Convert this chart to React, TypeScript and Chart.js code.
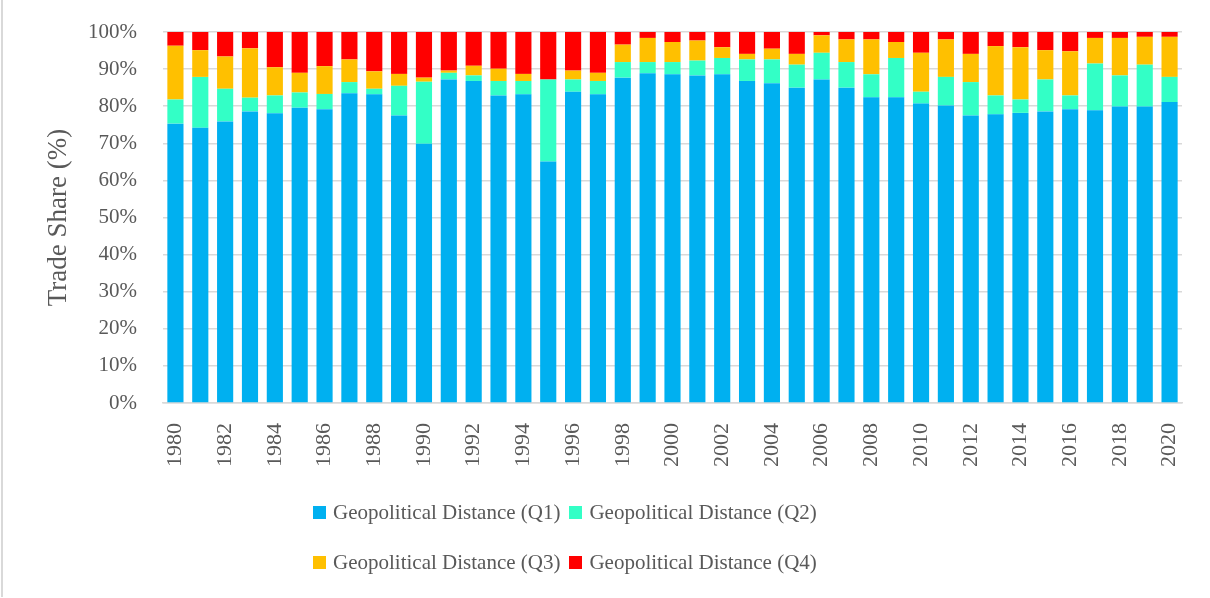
import { useEffect, useRef } from "react";
import { Chart, registerables } from "chart.js";

Chart.register(...registerables);

const years = [
  "1980","1981","1982","1983","1984","1985","1986","1987","1988","1989",
  "1990","1991","1992","1993","1994","1995","1996","1997","1998","1999",
  "2000","2001","2002","2003","2004","2005","2006","2007","2008","2009",
  "2010","2011","2012","2013","2014","2015","2016","2017","2018","2019","2020",
];

const q1 = [
  75.3, 74.2, 75.9, 78.6, 78.1, 79.6, 79.2, 83.5, 83.2, 77.5,
  69.9, 87.2, 86.8, 82.9, 83.2, 65.1, 83.9, 83.2, 87.7, 88.9,
  88.6, 88.3, 88.6, 86.8, 86.2, 85.0, 87.2, 85.0, 82.4, 82.4,
  80.7, 80.2, 77.5, 77.8, 78.2, 78.6, 79.2, 78.9, 79.9, 79.9, 81.1,
];
const q2 = [
  6.5, 13.7, 8.8, 3.7, 4.8, 4.1, 4.1, 3.0, 1.5, 8.0,
  16.7, 1.8, 1.5, 3.9, 3.6, 22.1, 3.3, 3.6, 4.2, 3.0,
  3.3, 4.0, 4.4, 5.8, 6.4, 6.2, 7.2, 6.9, 6.2, 10.6,
  3.2, 7.7, 9.0, 5.1, 3.6, 8.6, 3.7, 12.6, 8.4, 11.3, 6.8,
];
const q3 = [
  14.5, 7.2, 8.7, 13.3, 7.6, 5.3, 7.5, 6.1, 4.7, 3.2,
  1.1, 0.6, 2.6, 3.3, 1.9, 0.0, 2.4, 2.2, 4.7, 6.5,
  5.4, 5.4, 2.9, 1.5, 2.9, 2.9, 4.7, 6.1, 9.4, 4.3,
  10.5, 10.1, 7.6, 13.3, 14.1, 7.9, 11.9, 6.9, 10.1, 7.5, 10.8,
];
const q4 = [
  3.7, 4.9, 6.6, 4.4, 9.5, 11.0, 9.2, 7.4, 10.6, 11.3,
  12.3, 10.4, 9.1, 9.9, 11.3, 12.8, 10.4, 11.0, 3.4, 1.6,
  2.7, 2.3, 4.1, 5.9, 4.5, 5.9, 0.9, 2.0, 2.0, 2.7,
  5.6, 2.0, 5.9, 3.8, 4.1, 4.9, 5.2, 1.6, 1.6, 1.3, 1.3,
];

const seriesLabels = [
  "Geopolitical Distance (Q1)",
  "Geopolitical Distance (Q2)",
  "Geopolitical Distance (Q3)",
  "Geopolitical Distance (Q4)",
];
const seriesColors = ["#00B0F0", "#33FFC6", "#FFC000", "#FF0000"];
const seriesValues = [q1, q2, q3, q4];

const yTitle = "Trade Share (%)";

const FONT = "'Liberation Serif', 'Times New Roman', serif";
const TEXT = "#595959";
const GRID = "#d9d9d9";

export default function App() {
  const canvasRef = useRef<HTMLCanvasElement | null>(null);

  useEffect(() => {
    const canvas = canvasRef.current;
    if (!canvas) return;
    const chart = new Chart(canvas, {
      type: "bar",
      data: {
        labels: years,
        datasets: seriesLabels.map((label, i) => ({
          label,
          data: seriesValues[i],
          backgroundColor: seriesColors[i],
          borderWidth: 0,
          categoryPercentage: 1,
          barPercentage: 0.65,
        })),
      },
      options: {
        animation: false,
        responsive: false,
        maintainAspectRatio: false,
        layout: { padding: { left: 0, right: 28, top: 32, bottom: 125 } },
        plugins: {
          legend: { display: false },
          tooltip: { enabled: false },
        },
        scales: {
          x: {
            stacked: true,
            grid: { display: false, drawTicks: false },
            border: { display: true, color: GRID, width: 1.5 },
            ticks: {
              autoSkip: false,
              minRotation: 90,
              maxRotation: 90,
              padding: 20,
              color: TEXT,
              font: { family: FONT, size: 22 },
              callback: (_v: any, idx: number) => (idx % 2 === 0 ? years[idx] : ""),
            },
            afterFit: (s: any) => {
              s.height = 70;
              s.paddingLeft = 0;
              s.paddingRight = 0;
            },
          },
          y: {
            stacked: true,
            min: 0,
            max: 100,
            grid: { color: GRID, lineWidth: 1.5, drawTicks: false },
            border: { display: false },
            ticks: {
              stepSize: 10,
              padding: 26,
              color: TEXT,
              font: { family: FONT, size: 21 },
              callback: (v: any) => v + "%",
            },
            title: {
              display: true,
              text: yTitle,
              color: TEXT,
              font: { family: FONT, size: 27 },
              padding: { top: 43, bottom: 0 },
            },
            afterFit: (s: any) => {
              s.width = 163;
              s.paddingTop = 0;
              s.paddingBottom = 0;
            },
          },
        },
      },
    });
    return () => chart.destroy();
  }, []);

  return (
    <div
      style={{
        position: "fixed",
        left: 0,
        top: 0,
        width: 1210,
        height: 598,
        background: "#fff",
        overflow: "hidden",
      }}
    >
      <div
        style={{
          position: "absolute",
          left: 1,
          top: 0,
          width: 2,
          height: 597,
          background: GRID,
        }}
      />
      <canvas
        ref={canvasRef}
        width={1210}
        height={598}
        style={{ position: "absolute", left: 0, top: 0, width: 1210, height: 598 }}
      />
      {[0, 1].map((row) => (
        <div
          key={row}
          style={{
            position: "absolute",
            left: 313,
            top: row === 0 ? 498 : 548,
            height: 28,
            display: "flex",
            alignItems: "center",
            fontFamily: FONT,
            fontSize: 21,
            color: TEXT,
            whiteSpace: "nowrap",
          }}
        >
          {[0, 1].map((c) => {
            const i = row * 2 + c;
            return (
              <div key={i} style={{ display: "flex", alignItems: "center", marginRight: 9 }}>
                <span
                  style={{
                    display: "inline-block",
                    width: 13,
                    height: 13,
                    background: seriesColors[i],
                    marginRight: 7,
                  }}
                />
                <span>{seriesLabels[i]}</span>
              </div>
            );
          })}
        </div>
      ))}
    </div>
  );
}
